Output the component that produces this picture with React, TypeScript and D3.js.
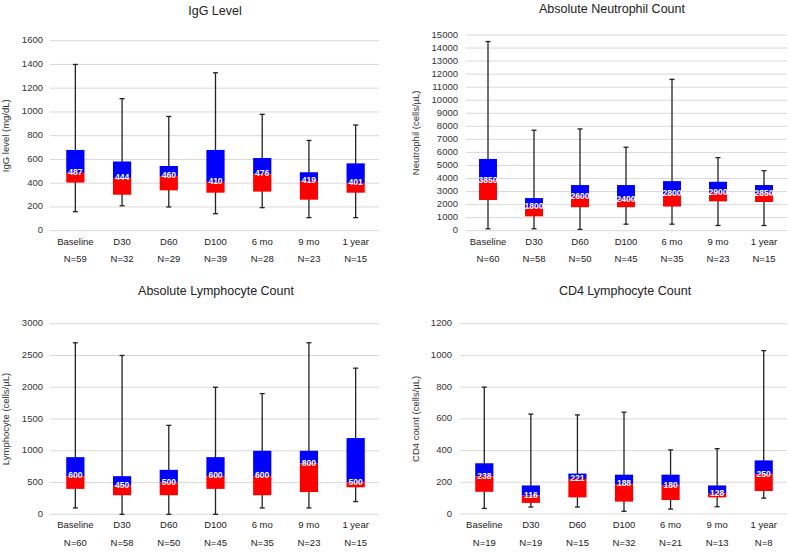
import * as d3 from 'd3';

const categories = ['Baseline', 'D30', 'D60', 'D100', '6 mo', '9 mo', '1 year'];

// IgG level (mg/dL)
const iggN = [59, 32, 29, 39, 28, 23, 15];
const iggMin = [160, 210, 200, 143, 194, 110, 110];
const iggQ1 = [405, 303, 340, 320, 329, 261, 320];
const iggMedian = [487, 444, 460, 410, 476, 419, 401];
const iggQ3 = [680, 583, 545, 680, 612, 492, 567];
const iggMax = [1400, 1112, 962, 1330, 980, 760, 890];

// Absolute neutrophil count (cells/µL)
const neutN = [60, 58, 50, 45, 35, 23, 15];
const neutMin = [150, 150, 100, 500, 500, 400, 400];
const neutQ1 = [2350, 1100, 1800, 1800, 1850, 2250, 2200];
const neutMedian = [3850, 1800, 2600, 2400, 2800, 2900, 2850];
const neutQ3 = [5500, 2500, 3500, 3500, 3800, 3750, 3500];
const neutMax = [14500, 7700, 7800, 6400, 11600, 5600, 4600];

// Absolute lymphocyte count (cells/µL)
const lymphN = [60, 58, 50, 45, 35, 23, 15];
const lymphMin = [100, 0, 0, 0, 100, 100, 200];
const lymphQ1 = [400, 300, 300, 400, 300, 350, 425];
const lymphMedian = [600, 450, 500, 600, 600, 800, 500];
const lymphQ3 = [900, 600, 700, 900, 1000, 1000, 1200];
const lymphMax = [2700, 2500, 1400, 2000, 1900, 2700, 2300];

// CD4 lymphocyte count (cells/µL)
const cd4N = [19, 19, 15, 32, 21, 13, 8];
const cd4Min = [35, 44, 44, 17, 31, 46, 100];
const cd4Q1 = [140, 70, 105, 78, 88, 105, 145];
const cd4Median = [238, 116, 221, 188, 180, 128, 250];
const cd4Q3 = [320, 180, 255, 248, 248, 180, 338];
const cd4Max = [800, 630, 625, 642, 404, 412, 1030];

const FONT = '"Liberation Sans", Arial, sans-serif';

interface PanelProps {
  title: string;
  yLabel: string;
  yMax: number;
  yStep: number;
  n: number[];
  min: number[];
  q1: number[];
  median: number[];
  q3: number[];
  max: number[];
  left: number;
  right: number;
  top: number;
  bottom: number;
  gridStart: number;
  tickX: number;
  yTitleX: number;
  titleX: number;
  titleY: number;
}

function Panel(p: PanelProps) {
  const x = d3.scaleBand<string>().domain(categories).range([p.left, p.right]);
  const y = d3.scaleLinear().domain([0, p.yMax]).range([p.bottom, p.top]);
  const ticks = d3.range(0, p.yMax + 1, p.yStep);
  const bw = x.bandwidth() * 0.39;
  const cap = 5;
  const midY = (p.top + p.bottom) / 2;

  return (
    <g fontFamily={FONT}>
      <text x={p.titleX} y={p.titleY} textAnchor="middle" dominantBaseline="middle" fontSize={12.5} fill="#222">
        {p.title}
      </text>
      {ticks.map((t) => (
        <g key={t}>
          <line x1={p.gridStart} x2={p.right} y1={y(t)} y2={y(t)} stroke="#d9d9d9" strokeWidth={1} />
          <text x={p.tickX} y={y(t)} textAnchor="end" dominantBaseline="middle" fontSize={9.5} fill="#333">
            {t}
          </text>
        </g>
      ))}
      <text
        transform={`translate(${p.yTitleX},${midY}) rotate(-90)`}
        textAnchor="middle"
        dominantBaseline="middle"
        fontSize={9.5}
        fill="#333"
      >
        {p.yLabel}
      </text>
      {categories.map((c, i) => {
        const cx = (x(c) ?? 0) + x.bandwidth() / 2;
        return (
          <g key={c}>
            <line x1={cx} x2={cx} y1={y(p.max[i])} y2={y(p.min[i])} stroke="#222" strokeWidth={1.3} />
            <line x1={cx - cap / 2} x2={cx + cap / 2} y1={y(p.max[i])} y2={y(p.max[i])} stroke="#222" strokeWidth={1.3} />
            <line x1={cx - cap / 2} x2={cx + cap / 2} y1={y(p.min[i])} y2={y(p.min[i])} stroke="#222" strokeWidth={1.3} />
            <rect x={cx - bw / 2} width={bw} y={y(p.q3[i])} height={y(p.median[i]) - y(p.q3[i])} fill="#0000ff" />
            <rect x={cx - bw / 2} width={bw} y={y(p.median[i])} height={y(p.q1[i]) - y(p.median[i])} fill="#ff0000" />
            <text
              x={cx}
              y={y(p.median[i])}
              textAnchor="middle"
              dominantBaseline="middle"
              fontSize={8.5}
              fontWeight="bold"
              fill="#fff"
            >
              {p.median[i]}
            </text>
            <text x={cx} y={p.bottom + 11.5} textAnchor="middle" dominantBaseline="middle" fontSize={9.5} fill="#222">
              {c}
            </text>
            <text x={cx} y={p.bottom + 29} textAnchor="middle" dominantBaseline="middle" fontSize={9.5} fill="#222">
              N={p.n[i]}
            </text>
          </g>
        );
      })}
    </g>
  );
}

export default function App() {
  return (
    <svg width={789} height={552} style={{ position: 'absolute', left: 0, top: 0, background: '#fff' }}>
      <rect width={789} height={552} fill="#fff" />
      <Panel
        title="IgG Level"
        yLabel="IgG level (mg/dL)"
        yMax={1600}
        yStep={200}
        n={iggN}
        min={iggMin}
        q1={iggQ1}
        median={iggMedian}
        q3={iggQ3}
        max={iggMax}
        left={52}
        right={379}
        top={40.7}
        bottom={230.7}
        gridStart={50}
        tickX={43}
        yTitleX={6}
        titleX={215}
        titleY={12}
      />
      <Panel
        title="Absolute Neutrophil Count"
        yLabel="Neutrophil (cells/µL)"
        yMax={15000}
        yStep={1000}
        n={neutN}
        min={neutMin}
        q1={neutQ1}
        median={neutMedian}
        q3={neutQ3}
        max={neutMax}
        left={465}
        right={787}
        top={35}
        bottom={230.7}
        gridStart={466}
        tickX={458}
        yTitleX={416}
        titleX={612}
        titleY={9.5}
      />
      <Panel
        title="Absolute Lymphocyte Count"
        yLabel="Lymphocyte (cells/µL)"
        yMax={3000}
        yStep={500}
        n={lymphN}
        min={lymphMin}
        q1={lymphQ1}
        median={lymphMedian}
        q3={lymphQ3}
        max={lymphMax}
        left={52}
        right={379}
        top={323.7}
        bottom={514.3}
        gridStart={50}
        tickX={43}
        yTitleX={6}
        titleX={216}
        titleY={292}
      />
      <Panel
        title="CD4 Lymphocyte Count"
        yLabel="CD4 count (cells/µL)"
        yMax={1200}
        yStep={200}
        n={cd4N}
        min={cd4Min}
        q1={cd4Q1}
        median={cd4Median}
        q3={cd4Q3}
        max={cd4Max}
        left={461}
        right={787}
        top={323.7}
        bottom={514}
        gridStart={460}
        tickX={452}
        yTitleX={416}
        titleX={625}
        titleY={292}
      />
    </svg>
  );
}
